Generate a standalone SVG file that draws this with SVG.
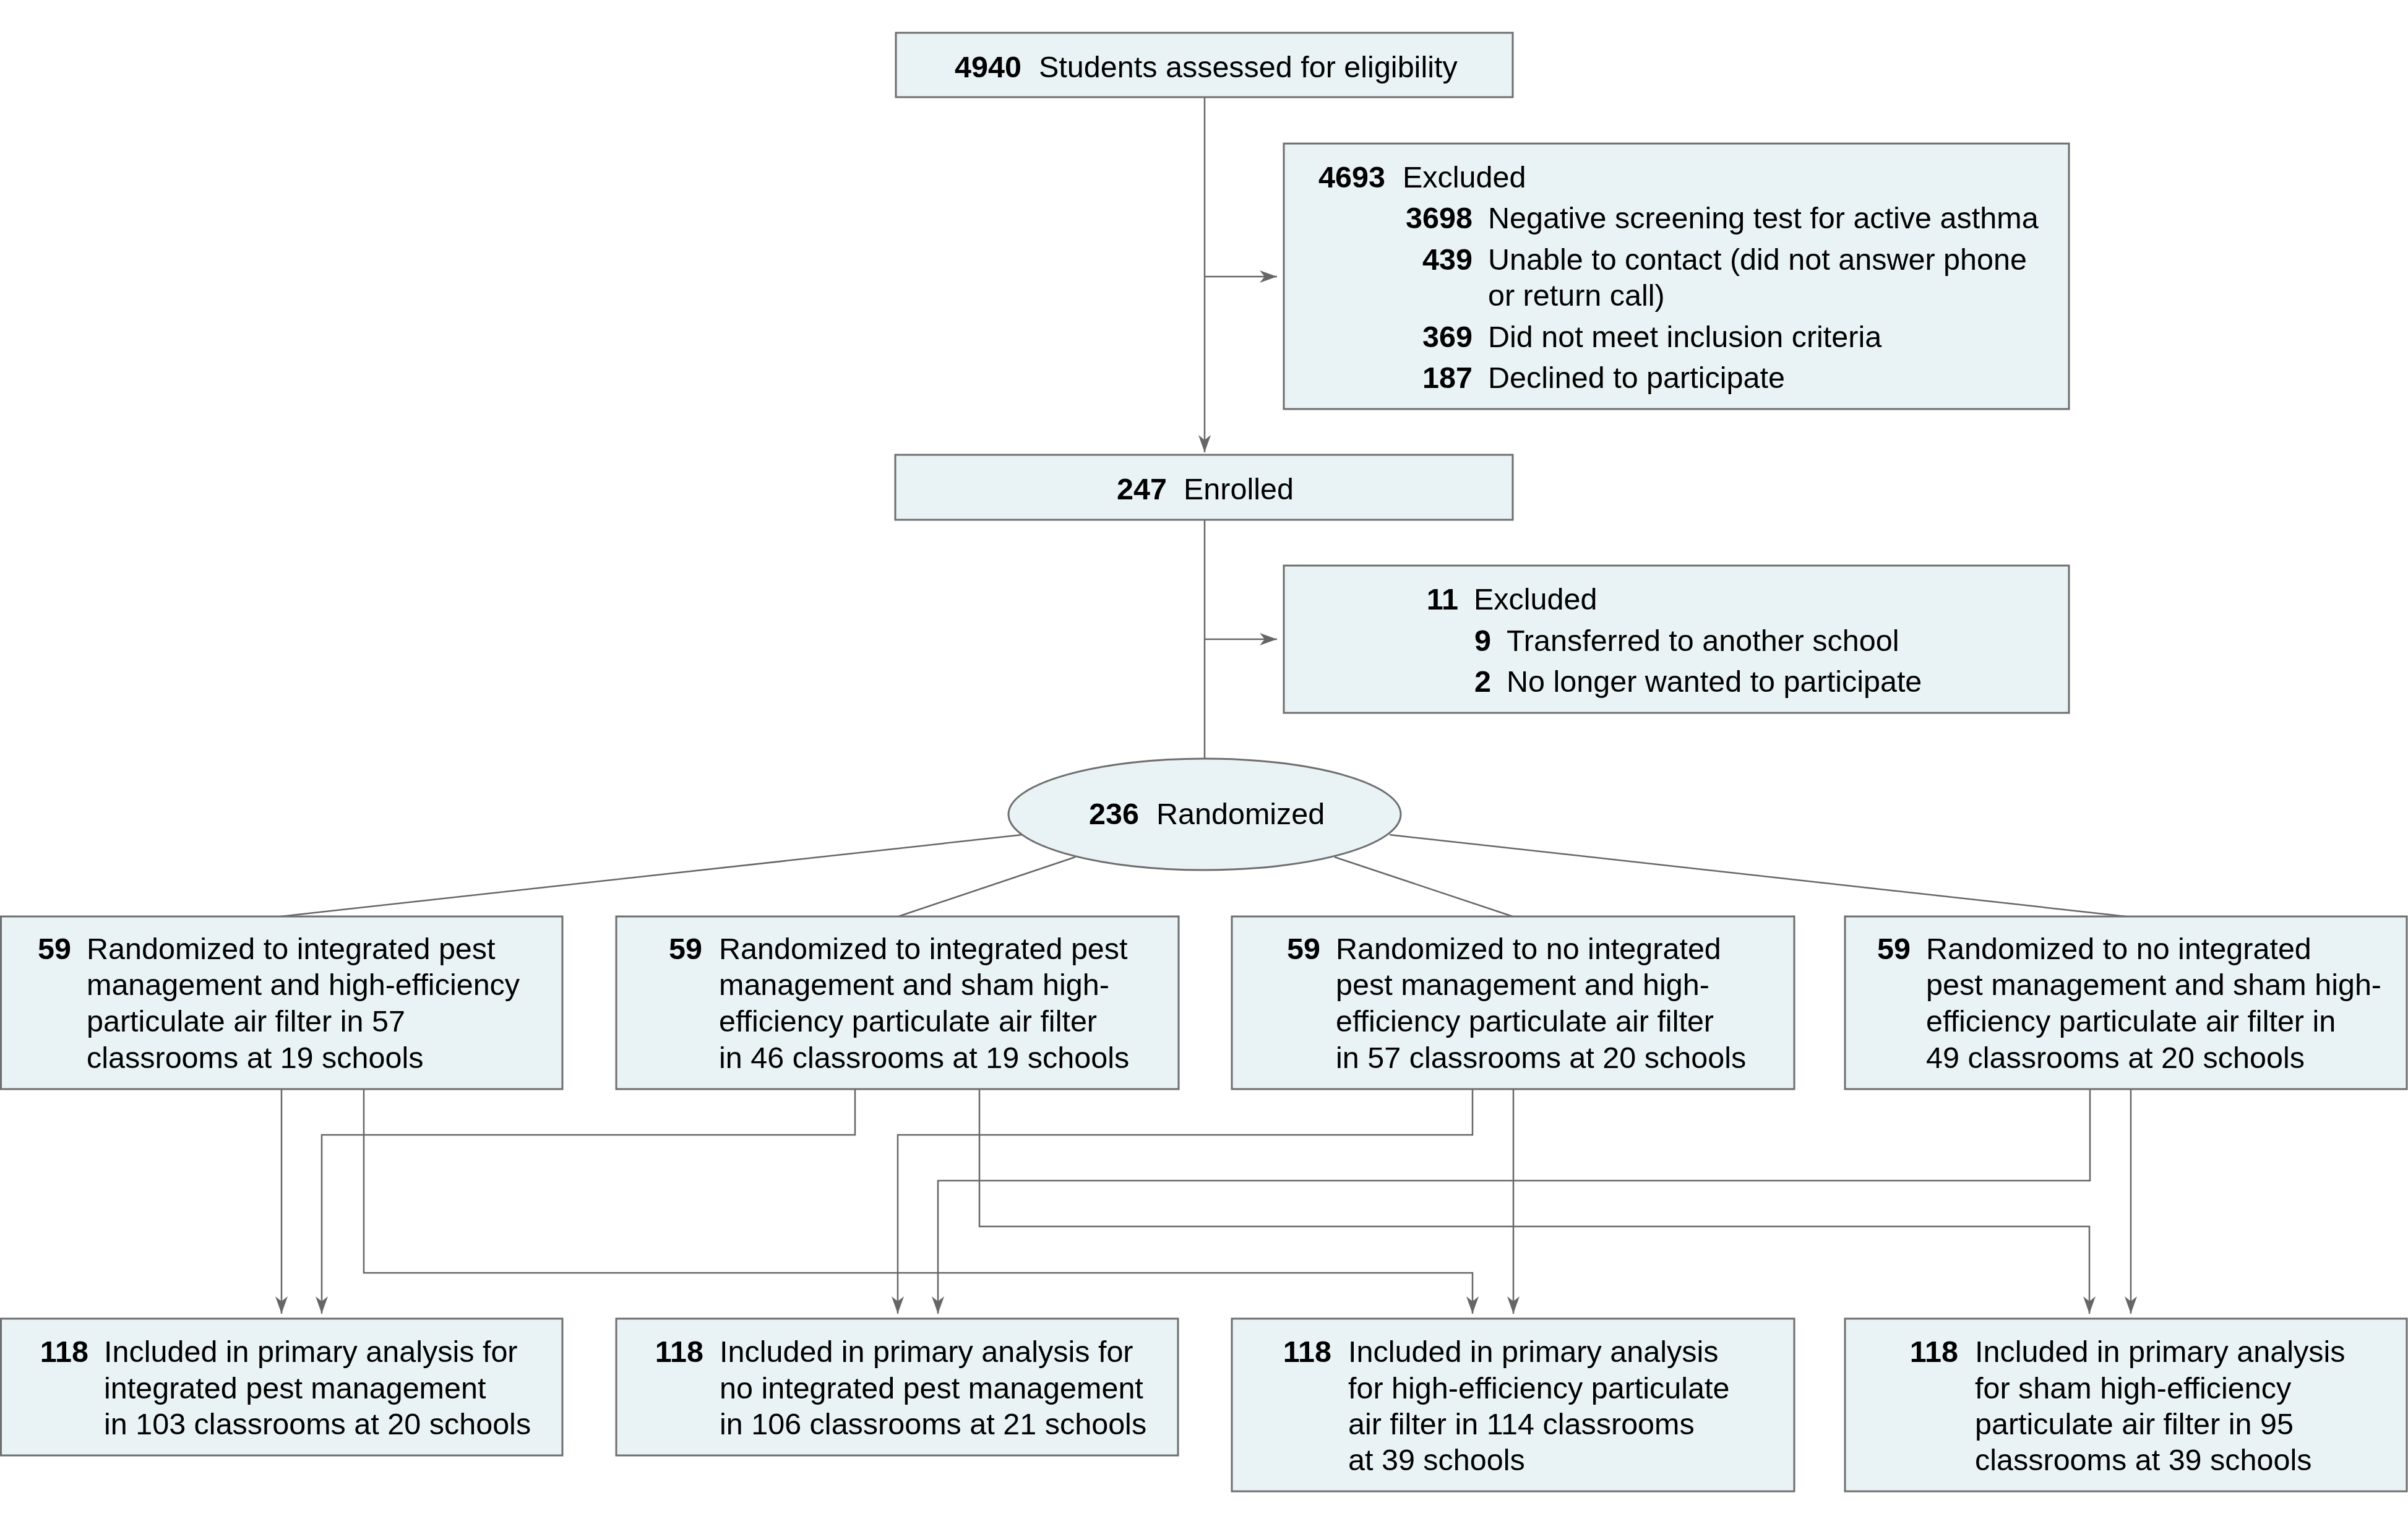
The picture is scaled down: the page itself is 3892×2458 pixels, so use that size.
<svg xmlns="http://www.w3.org/2000/svg" width="3892" height="2458" viewBox="0 0 3892 2458">
<style>
  .box{fill:#E9F3F5;stroke:#6E6E6E;stroke-width:3}
  .t{font-family:"Liberation Sans",Arial,sans-serif;font-size:48.5px;fill:#000}
  .n{font-weight:bold;text-anchor:end}
  .c{fill:none;stroke:#666;stroke-width:2.5}
  .a{marker-end:url(#ah)}
</style>
<defs>
  <marker id="ah" markerUnits="userSpaceOnUse" markerWidth="30" markerHeight="22" refX="28" refY="11" orient="auto" viewBox="0 0 30 22">
    <path d="M0,1 L28,11 L0,21 L8,11 Z" fill="#666"/>
  </marker>
</defs>
<rect width="3892" height="2458" fill="#fff"/>
<g id="connectors">
  <path class="c a" d="M1947,157 V731"/>
  <path class="c a" d="M1947,447 H2064"/>
  <path class="c" d="M1947,840 V1226"/>
  <path class="c a" d="M1947,1033 H2064"/>
  <path class="c" d="M1652,1349 L454,1481"/>
  <path class="c" d="M1738,1385 L1452,1481"/>
  <path class="c" d="M2157,1385 L2445,1481"/>
  <path class="c" d="M2246,1349 L3436,1481"/>
  <path class="c a" d="M455,1760 V2123"/>
  <path class="c a" d="M588,1760 V2057 H2380 V2123"/>
  <path class="c a" d="M1382,1760 V1834 H520 V2123"/>
  <path class="c a" d="M1583,1760 V1982 H3377 V2123"/>
  <path class="c a" d="M2380,1760 V1834 H1451 V2123"/>
  <path class="c a" d="M2446,1760 V2123"/>
  <path class="c a" d="M3378,1760 V1908 H1516 V2123"/>
  <path class="c a" d="M3444,1760 V2123"/>
</g>
<g id="assessed">
  <rect class="box" x="1448" y="53" width="997" height="104"/>
  <text class="t n" x="1651" y="125">4940</text>
  <text class="t" x="1679" y="125">Students assessed for eligibility</text>
</g>
<g id="excluded1">
  <rect class="box" x="2075" y="232" width="1269" height="429"/>
  <text class="t n" x="2239" y="303">4693</text>
  <text class="t" x="2267" y="303">Excluded</text>
  <text class="t n" x="2380" y="369">3698</text>
  <text class="t" x="2405" y="369">Negative screening test for active asthma</text>
  <text class="t n" x="2380" y="436">439</text>
  <text class="t" x="2405" y="436">Unable to contact (did not answer phone</text>
  <text class="t" x="2405" y="494">or return call)</text>
  <text class="t n" x="2380" y="561">369</text>
  <text class="t" x="2405" y="561">Did not meet inclusion criteria</text>
  <text class="t n" x="2380" y="627">187</text>
  <text class="t" x="2405" y="627">Declined to participate</text>
</g>
<g id="enrolled">
  <rect class="box" x="1447" y="735" width="998" height="105"/>
  <text class="t n" x="1886" y="807">247</text>
  <text class="t" x="1913" y="807">Enrolled</text>
</g>
<g id="excluded2">
  <rect class="box" x="2075" y="914" width="1269" height="238"/>
  <text class="t n" x="2357" y="985">11</text>
  <text class="t" x="2382" y="985">Excluded</text>
  <text class="t n" x="2410" y="1052">9</text>
  <text class="t" x="2435" y="1052">Transferred to another school</text>
  <text class="t n" x="2410" y="1118">2</text>
  <text class="t" x="2435" y="1118">No longer wanted to participate</text>
</g>
<g id="randomized">
  <ellipse class="box" cx="1947" cy="1316" rx="317" ry="90"/>
  <text class="t n" x="1841" y="1332">236</text>
  <text class="t" x="1869" y="1332">Randomized</text>
</g>
<g id="arm1">
  <rect class="box" x="1.5" y="1481" width="907.5" height="279"/>
  <text class="t n" x="115" y="1550">59</text>
  <text class="t" x="140" y="1550">Randomized to integrated pest</text>
  <text class="t" x="140" y="1608">management and high-efficiency</text>
  <text class="t" x="140" y="1667">particulate air filter in 57</text>
  <text class="t" x="140" y="1726">classrooms at 19 schools</text>
</g>
<g id="arm2">
  <rect class="box" x="996" y="1481" width="909" height="279"/>
  <text class="t n" x="1135" y="1550">59</text>
  <text class="t" x="1162" y="1550">Randomized to integrated pest</text>
  <text class="t" x="1162" y="1608">management and sham high-</text>
  <text class="t" x="1162" y="1667">efficiency particulate air filter</text>
  <text class="t" x="1162" y="1726">in 46 classrooms at 19 schools</text>
</g>
<g id="arm3">
  <rect class="box" x="1991" y="1481" width="909" height="279"/>
  <text class="t n" x="2134" y="1550">59</text>
  <text class="t" x="2159" y="1550">Randomized to no integrated</text>
  <text class="t" x="2159" y="1608">pest management and high-</text>
  <text class="t" x="2159" y="1667">efficiency particulate air filter</text>
  <text class="t" x="2159" y="1726">in 57 classrooms at 20 schools</text>
</g>
<g id="arm4">
  <rect class="box" x="2982" y="1481" width="908" height="279"/>
  <text class="t n" x="3088" y="1550">59</text>
  <text class="t" x="3113" y="1550">Randomized to no integrated</text>
  <text class="t" x="3113" y="1608">pest management and sham high-</text>
  <text class="t" x="3113" y="1667">efficiency particulate air filter in</text>
  <text class="t" x="3113" y="1726">49 classrooms at 20 schools</text>
</g>
<g id="analysis1">
  <rect class="box" x="1.5" y="2131" width="907.5" height="221"/>
  <text class="t n" x="143" y="2201">118</text>
  <text class="t" x="168" y="2201">Included in primary analysis for</text>
  <text class="t" x="168" y="2260">integrated pest management</text>
  <text class="t" x="168" y="2318">in 103 classrooms at 20 schools</text>
</g>
<g id="analysis2">
  <rect class="box" x="996" y="2131" width="908" height="221"/>
  <text class="t n" x="1137" y="2201">118</text>
  <text class="t" x="1163" y="2201">Included in primary analysis for</text>
  <text class="t" x="1163" y="2260">no integrated pest management</text>
  <text class="t" x="1163" y="2318">in 106 classrooms at 21 schools</text>
</g>
<g id="analysis3">
  <rect class="box" x="1991" y="2131" width="909" height="279"/>
  <text class="t n" x="2152" y="2201">118</text>
  <text class="t" x="2179" y="2201">Included in primary analysis</text>
  <text class="t" x="2179" y="2260">for high-efficiency particulate</text>
  <text class="t" x="2179" y="2318">air filter in 114 classrooms</text>
  <text class="t" x="2179" y="2376">at 39 schools</text>
</g>
<g id="analysis4">
  <rect class="box" x="2982" y="2131" width="908" height="279"/>
  <text class="t n" x="3165" y="2201">118</text>
  <text class="t" x="3192" y="2201">Included in primary analysis</text>
  <text class="t" x="3192" y="2260">for sham high-efficiency</text>
  <text class="t" x="3192" y="2318">particulate air filter in 95</text>
  <text class="t" x="3192" y="2376">classrooms at 39 schools</text>
</g>
</svg>
